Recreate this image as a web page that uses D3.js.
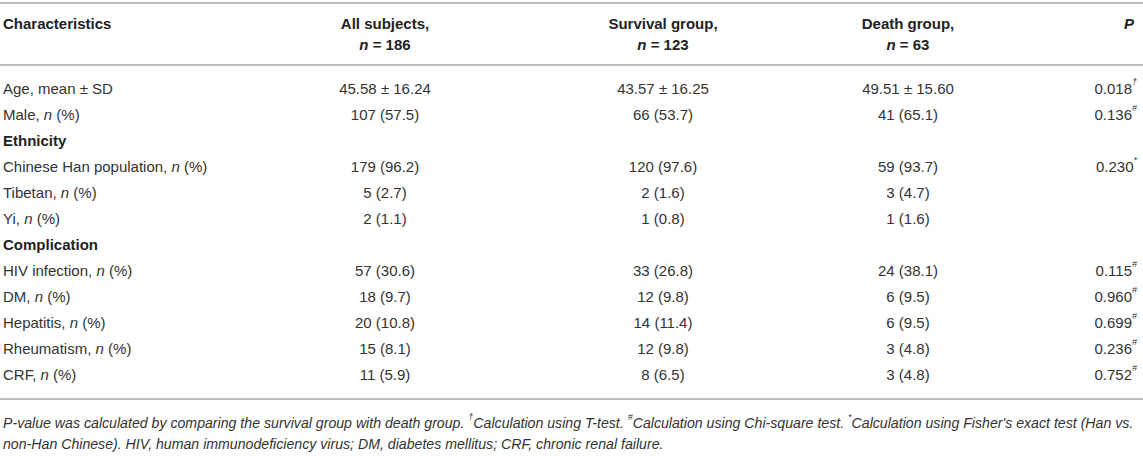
<!DOCTYPE html>
<html lang="en">
<head>
<meta charset="UTF-8">
<title>Table</title>
<style>
  body { margin: 0; background: #fff; }
  svg { display: block; font-family: "Liberation Sans", Arial, Helvetica, sans-serif; }
  .cell { fill: #333; font-size: 15px; }
  .head { fill: #222; font-size: 15px; font-weight: bold; }
  .note { fill: #333; font-size: 14.15px; font-style: italic; }
</style>
</head>
<body>
<script src="https://d3js.org/d3.v7.min.js"></script>
<script>
// column headers
const groupNames = ["All subjects,", "Survival group,", "Death group,"];
const groupN = [186, 123, 63];

// age row
const ageMean = [45.58, 43.57, 49.51];
const ageSD = [16.24, 16.25, 15.60];

// count rows (null = section heading)
const rowLabels = ["Male", "Ethnicity", "Chinese Han population", "Tibetan", "Yi",
  "Complication", "HIV infection", "DM", "Hepatitis", "Rheumatism", "CRF"];
const allCounts = [107, null, 179, 5, 2, null, 57, 18, 20, 15, 11];
const allPct = [57.5, null, 96.2, 2.7, 1.1, null, 30.6, 9.7, 10.8, 8.1, 5.9];
const survCounts = [66, null, 120, 2, 1, null, 33, 12, 14, 12, 8];
const survPct = [53.7, null, 97.6, 1.6, 0.8, null, 26.8, 9.8, 11.4, 9.8, 6.5];
const deathCounts = [41, null, 59, 3, 1, null, 24, 6, 6, 3, 3];
const deathPct = [65.1, null, 93.7, 4.7, 1.6, null, 38.1, 9.5, 9.5, 4.8, 4.8];

// P column, first entry is the age row
const pValues = ["0.018", "0.136", null, "0.230", null, null, null, "0.115", "0.960", "0.699", "0.236", "0.752"];
const pMarks = ["†", "#", "", "*", "", "", "", "#", "#", "#", "#", "#"];

const w = 1143, h = 456;

const svg = d3.select("body").append("svg")
  .attr("width", w)
  .attr("height", h);

const x = d3.scaleOrdinal()
  .domain(["label", "all", "surv", "death", "p"])
  .range([3, 385, 663, 908, 1137]);
const y = d3.scaleLinear()
  .domain([0, 11])
  .range([88, 374]);

// rules
const rules = [3, 65, 399];
svg.selectAll("line.rule")
  .data(rules)
  .enter()
  .append("line")
  .attr("class", "rule")
  .attr("x1", 0).attr("x2", w)
  .attr("y1", d => d).attr("y2", d => d)
  .attr("stroke", "#bdbdbd")
  .attr("stroke-width", 2);

// header
svg.append("text").attr("class", "head")
  .attr("x", x("label")).attr("y", 23)
  .attr("dominant-baseline", "central")
  .text("Characteristics");

const groupKeys = ["all", "surv", "death"];
groupKeys.forEach((k, i) => {
  svg.append("text").attr("class", "head")
    .attr("x", x(k)).attr("y", 23)
    .attr("text-anchor", "middle")
    .attr("dominant-baseline", "central")
    .text(groupNames[i]);
  const t = svg.append("text").attr("class", "head")
    .attr("x", x(k)).attr("y", 44)
    .attr("text-anchor", "middle")
    .attr("dominant-baseline", "central");
  t.append("tspan").attr("font-style", "italic").text("n");
  t.append("tspan").text(" = " + groupN[i]);
});

svg.append("text").attr("class", "head")
  .attr("x", x("p") - 3).attr("y", 23)
  .attr("text-anchor", "end")
  .attr("dominant-baseline", "central")
  .attr("font-style", "italic")
  .text("P");

// rows
const rows = [];
rows.push({ label: "Age, mean ± SD", section: false, n: false,
  vals: ageMean.map((m, i) => m.toFixed(2) + " ± " + ageSD[i].toFixed(2)) });
rowLabels.forEach((lab, i) => {
  if (allCounts[i] === null) {
    rows.push({ label: lab, section: true, vals: [] });
  } else {
    rows.push({ label: lab, section: false, n: true, vals: [
      allCounts[i] + " (" + allPct[i].toFixed(1) + ")",
      survCounts[i] + " (" + survPct[i].toFixed(1) + ")",
      deathCounts[i] + " (" + deathPct[i].toFixed(1) + ")"
    ] });
  }
});

rows.forEach((r, i) => {
  const lt = svg.append("text")
    .attr("class", r.section ? "head" : "cell")
    .attr("x", x("label")).attr("y", y(i))
    .attr("dominant-baseline", "central");
  if (r.n) {
    lt.append("tspan").text(r.label + ", ");
    lt.append("tspan").attr("font-style", "italic").text("n");
    lt.append("tspan").text(" (%)");
  } else {
    lt.text(r.label);
  }
  r.vals.forEach((v, j) => {
    svg.append("text").attr("class", "cell")
      .attr("x", x(groupKeys[j])).attr("y", y(i))
      .attr("text-anchor", "middle")
      .attr("dominant-baseline", "central")
      .text(v);
  });
  if (pValues[i] !== null) {
    const pt = svg.append("text").attr("class", "cell")
      .attr("x", x("p")).attr("y", y(i))
      .attr("text-anchor", "end")
      .attr("dominant-baseline", "central");
    pt.append("tspan").text(pValues[i]);
    pt.append("tspan").attr("font-size", 9).attr("font-style", "italic")
      .attr("dy", -6).text(pMarks[i]);
  }
});

// footnote
const note1 = [
  ["P-value was calculated by comparing the survival group with death group. ", false],
  ["†", true], ["Calculation using T-test. ", false],
  ["#", true], ["Calculation using Chi-square test. ", false],
  ["*", true], ["Calculation using Fisher's exact test (Han vs.", false]
];
const n1 = svg.append("text").attr("class", "note")
  .attr("x", 3).attr("y", 423)
  .attr("dominant-baseline", "central");
let raised = false;
note1.forEach(([s, sup]) => {
  const ts = n1.append("tspan").text(s);
  if (sup) { ts.attr("font-size", 9).attr("dy", -6); raised = true; }
  else if (raised) { ts.attr("dy", 6); raised = false; }
});
svg.append("text").attr("class", "note")
  .attr("x", 3).attr("y", 444)
  .attr("dominant-baseline", "central")
  .text("non-Han Chinese). HIV, human immunodeficiency virus; DM, diabetes mellitus; CRF, chronic renal failure.");
</script>
</body>
</html>
